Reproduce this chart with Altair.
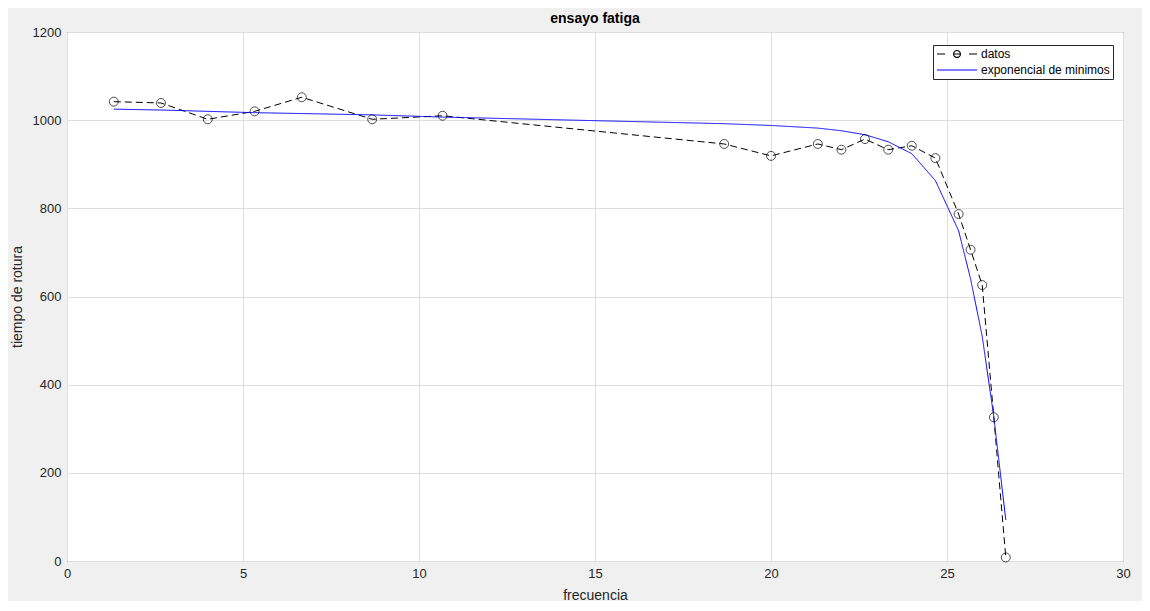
import altair as alt
import pandas as pd

# Measured data (datos)
freq = [1.33, 2.67, 4.00, 5.33, 6.67, 8.67, 10.67, 18.67, 20.00, 21.33,
        22.00, 22.67, 23.33, 24.00, 24.67, 25.33, 25.67, 26.00, 26.33, 26.67]
tiempo = [1042, 1039, 1002, 1020, 1052, 1002, 1010, 946, 919, 946,
          933, 957, 933, 942, 914, 787, 706, 626, 326, 8]

# Least-squares exponential fit
fit_tiempo = [1025, 1023, 1020, 1017, 1015, 1012, 1007, 992, 988, 982,
              976, 967, 951, 924, 863, 749, 640, 510, 327, 93]

series_names = ["datos", "exponencial de minimos"]
line_styles = ["discontinua", "continua"]
x_ticks = [0, 5, 10, 15, 20, 25, 30]
y_ticks = [0, 200, 400, 600, 800, 1000, 1200]

df_datos = pd.DataFrame({"x": freq, "y": tiempo, "serie": series_names[0], "estilo": line_styles[0]})
df_fit = pd.DataFrame({"x": freq, "y": fit_tiempo, "serie": series_names[1], "estilo": line_styles[1]})
df_all = pd.concat([df_datos, df_fit], ignore_index=True)

FONT = "Liberation Sans"

x_enc = alt.X("x:Q", scale=alt.Scale(domain=[0, 30], nice=False),
              axis=alt.Axis(values=x_ticks, title="frecuencia", format="d"))
y_enc = alt.Y("y:Q", scale=alt.Scale(domain=[0, 1200], nice=False),
              axis=alt.Axis(values=y_ticks, title="tiempo de rotura", format="d"))

# legend glyphs: dashed line with a circle marker for datos, plain line for the fit
glyph_datos = ("M-1,0H0.6"
               "M3.7,0L3.606,0.35L3.35,0.606L3,0.7L2.65,0.606L2.394,0.35L2.3,0"
               "L2.394,-0.35L2.65,-0.606L3,-0.7L3.35,-0.606L3.606,-0.35Z"
               "M2.3,0H3.7M5.4,0H7")
glyph_fit = "M-1,0H7"

legend = alt.Legend(
    title=None, orient="none", legendX=866, legendY=13,
    fillColor="white", strokeColor="#262626", padding=3,
    labelFont=FONT, labelFontSize=12, labelColor="#000000",
    symbolType=alt.ExprRef(expr=f"datum.value === 'datos' ? '{glyph_datos}' : '{glyph_fit}'"),
    symbolSize=100, symbolStrokeWidth=1.1, symbolFillColor="transparent",
    symbolDash=[1, 0],
    labelOffset=33, rowPadding=4, labelLimit=300,
)

lines = alt.Chart(df_all).mark_line(strokeWidth=1).encode(
    x=x_enc, y=y_enc,
    color=alt.Color("serie:N", scale=alt.Scale(domain=series_names, range=["#000000", "#0000ff"]),
                    legend=legend),
    strokeDash=alt.StrokeDash("estilo:N", scale=alt.Scale(domain=line_styles, range=[[7, 4], [1, 0]]),
                              legend=None),
    order="x:Q",
)

points = alt.Chart(df_datos).mark_point(
    shape="circle", filled=False, color="#000000", size=80, strokeWidth=1
).encode(x=x_enc, y=y_enc)

chart = alt.layer(lines, points).properties(
    width=1056, height=529,
    title=alt.TitleParams("ensayo fatiga", font=FONT, fontSize=14, fontWeight="bold",
                          color="#000000", offset=0, anchor="middle"),
    autosize=alt.AutoSizeParams(type="none"),
    padding={"left": 59, "top": 24, "right": 19, "bottom": 40},
    background="#f0f0f0",
).configure_view(
    fill="white", stroke="#262626", strokeWidth=1
).configure_axis(
    labelFont=FONT, labelFontSize=13, labelColor="#262626",
    titleFont=FONT, titleFontSize=14, titleFontWeight="normal", titleColor="#262626",
    domain=False, ticks=False, grid=True, gridColor="#dedede", gridWidth=1,
    labelPadding=6, labelFlush=False,
).configure_axisX(
    titlePadding=8
).configure_axisY(
    titlePadding=8
)

chart.save("out.html", embed_options={"renderer": "svg", "actions": False})
